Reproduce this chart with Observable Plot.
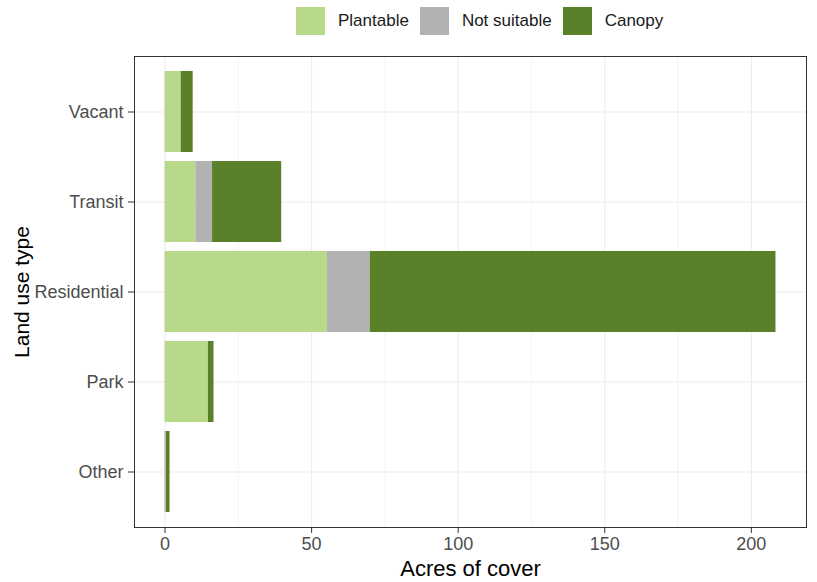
<!DOCTYPE html>
<html>
<head>
<meta charset="utf-8">
<script src="https://cdn.jsdelivr.net/npm/d3@7"></script>
<script src="https://cdn.jsdelivr.net/npm/@observablehq/plot@0.6"></script>
<style>
  body { margin: 0; background: white; font-family: "Liberation Sans", Arial, sans-serif; }
  #wrap { width: 817px; height: 582px; position: relative; }
  #legend { height: 42px; position: relative; display: flex; align-items: center; padding-left: 296px; box-sizing: border-box; }
  .sw { width: 29px; height: 28px; margin-right: 13px; flex: none; }
  .lab { font-size: 17px; color: #1a1a1a; margin-right: 11px; white-space: nowrap; }
  svg { display: block; }
</style>
</head>
<body>
<div id="wrap">
  <div id="legend"></div>
  <div id="chart"></div>
</div>
<script>
const categories = ["Vacant", "Transit", "Residential", "Park", "Other"];
const covers = ["Plantable", "Not suitable", "Canopy"];
const coverColors = ["#b8d88a", "#b2b2b2", "#5a802a"];
const plantable   = [5.5, 10.5, 55.4, 14.8, 0.0];
const notSuitable = [0.0, 5.7, 14.6, 0.0, 0.5];
const canopy      = [4.1, 23.6, 138.4, 1.9, 1.2];
const xTicks = [0, 50, 100, 150, 200];
const xMinorTicks = [25, 75, 125, 175];

const seriesValues = [plantable, notSuitable, canopy];
const rows = [];
categories.forEach((c, i) => {
  covers.forEach((s, j) => rows.push({type: c, cover: s, value: seriesValues[j][i]}));
});
const totals = categories.map((c, i) => plantable[i] + notSuitable[i] + canopy[i]);
const maxTotal = d3.max(totals);

// legend
const legend = document.getElementById("legend");
covers.forEach((s, j) => {
  const sw = document.createElement("div");
  sw.className = "sw";
  sw.style.background = coverColors[j];
  const lab = document.createElement("div");
  lab.className = "lab";
  lab.textContent = s;
  legend.appendChild(sw);
  legend.appendChild(lab);
});

const chart = Plot.plot({
  width: 817,
  height: 540,
  marginTop: 14,
  marginBottom: 55,
  marginLeft: 134,
  marginRight: 11,
  style: {fontFamily: "'Liberation Sans', Arial, sans-serif", background: "white"},
  x: {domain: [-0.05 * maxTotal, 1.05 * maxTotal]},
  y: {domain: categories, paddingInner: 0.1, paddingOuter: 0.15, align: 0.5},
  color: {domain: covers, range: coverColors},
  marks: [
    Plot.gridX(xMinorTicks, {stroke: "#ebebeb", strokeOpacity: 1, strokeWidth: 0.6}),
    Plot.gridX(xTicks, {stroke: "#ebebeb", strokeOpacity: 1, strokeWidth: 1.1}),
    Plot.gridY(categories, {stroke: "#ebebeb", strokeOpacity: 1, strokeWidth: 1.1}),
    Plot.barX(rows, {x: "value", y: "type", fill: "cover", order: covers}),
    Plot.frame({stroke: "#333333", strokeWidth: 1}),
    Plot.axisX(xTicks, {tickSize: 6, tickPadding: 4, fontSize: 18, stroke: "#333333", fill: "#4d4d4d", label: null}),
    Plot.axisY({tickSize: 6, tickPadding: 5, fontSize: 18, stroke: "#333333", fill: "#4d4d4d", label: null}),
    Plot.text(["Acres of cover"], {text: d => d, frameAnchor: "bottom", textAnchor: "middle", dy: 48, fontSize: 22, fill: "#000"}),
    Plot.text(["Land use type"], {text: d => d, frameAnchor: "left", textAnchor: "middle", dx: -112, rotate: -90, fontSize: 21, fill: "#000"})
  ]
});
document.getElementById("chart").appendChild(chart);
</script>
</body>
</html>
